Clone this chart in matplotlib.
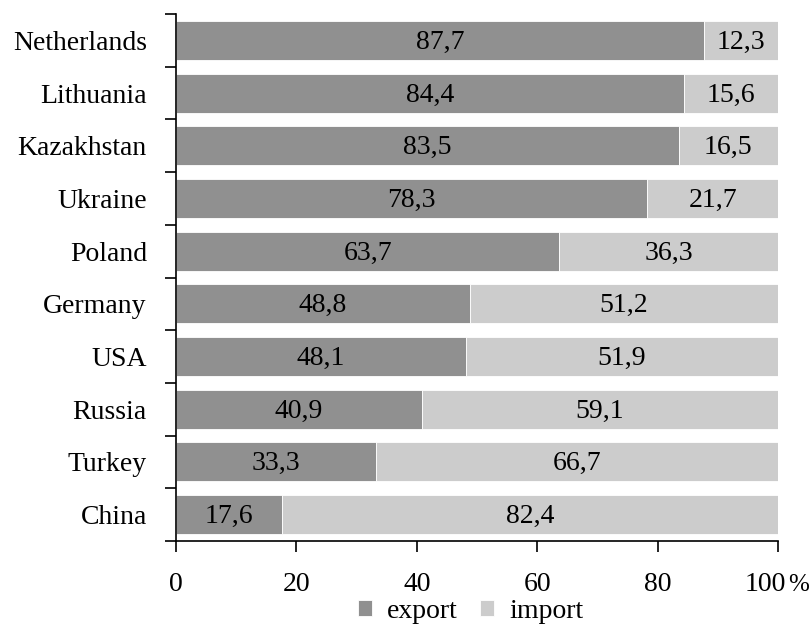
# export/import shares by country, stacked horizontal bars

import numpy as np
import matplotlib.pyplot as plt
from matplotlib.ticker import FixedLocator

countries = ['Netherlands', 'Lithuania', 'Kazakhstan', 'Ukraine', 'Poland',
             'Germany', 'USA', 'Russia', 'Turkey', 'China']
export = [87.7, 84.4, 83.5, 78.3, 63.7, 48.8, 48.1, 40.9, 33.3, 17.6]
imports = [12.3, 15.6, 16.5, 21.7, 36.3, 51.2, 51.9, 59.1, 66.7, 82.4]
xticks = [0, 20, 40, 60, 80, 100]
xtick_labels = ['0', '20', '40', '60', '80', '']  # last one drawn by hand with the % sign

plt.rcParams['font.family'] = ['Liberation Serif', 'DejaVu Serif']
fs = 20

fig = plt.figure(figsize=(8.11, 6.24), dpi=100)
ax = fig.add_axes([176 / 811, 1 - 541 / 624, 602 / 811, 527 / 624])

y = np.arange(len(countries))
c_exp = '#909090'
c_imp = '#cccccc'
b1 = ax.barh(y, export, height=0.74, color=c_exp, edgecolor='white',
             linewidth=0.6, label='export')
b2 = ax.barh(y, imports, left=export, height=0.74, color=c_imp,
             edgecolor='white', linewidth=0.6, label='import')

# value labels in the middle of each segment (baseline shifted so digits sit centred)
for i in range(len(countries)):
    ax.text(export[i] / 2, y[i] + 0.16, f'{export[i]:.1f}'.replace('.', ','),
            ha='center', va='baseline', fontsize=fs)
    ax.text(export[i] + imports[i] / 2, y[i] + 0.16,
            f'{imports[i]:.1f}'.replace('.', ','),
            ha='center', va='baseline', fontsize=fs)

ax.set_xlim(0, 100)
ax.set_ylim(len(countries) - 0.5, -0.5)
ax.set_yticks(y)
ax.set_yticklabels(countries, fontsize=fs)
ax.yaxis.set_minor_locator(FixedLocator(np.arange(-0.5, len(countries), 1)))
ax.tick_params(axis='y', which='major', length=0, pad=21)
ax.tick_params(axis='y', which='minor', length=8, width=1.2)
ax.set_xticks(xticks)
ax.set_xticklabels(xtick_labels, fontsize=fs)
ax.tick_params(axis='x', length=8, width=1.2, pad=14)

# "100 %" at the end of the axis
ax.annotate('100', xy=(100, 0), xycoords=('data', 'axes fraction'),
            xytext=(-9, -22), textcoords='offset points',
            ha='center', va='top', fontsize=fs)
ax.annotate('%', xy=(100, 0), xycoords=('data', 'axes fraction'),
            xytext=(7, -36), textcoords='offset points',
            ha='left', va='baseline', fontsize=18)

ax.spines['top'].set_visible(False)
ax.spines['right'].set_visible(False)
ax.spines['left'].set_linewidth(1.2)
ax.spines['bottom'].set_linewidth(1.2)

fig.legend(handles=[b1, b2], loc='lower center', ncol=2, frameon=False,
           fontsize=fs, handlelength=0.5, handleheight=0.5,
           handletextpad=0.55, columnspacing=0.8,
           bbox_to_anchor=(0.58, -0.04))

plt.savefig('out.png', dpi=100)
